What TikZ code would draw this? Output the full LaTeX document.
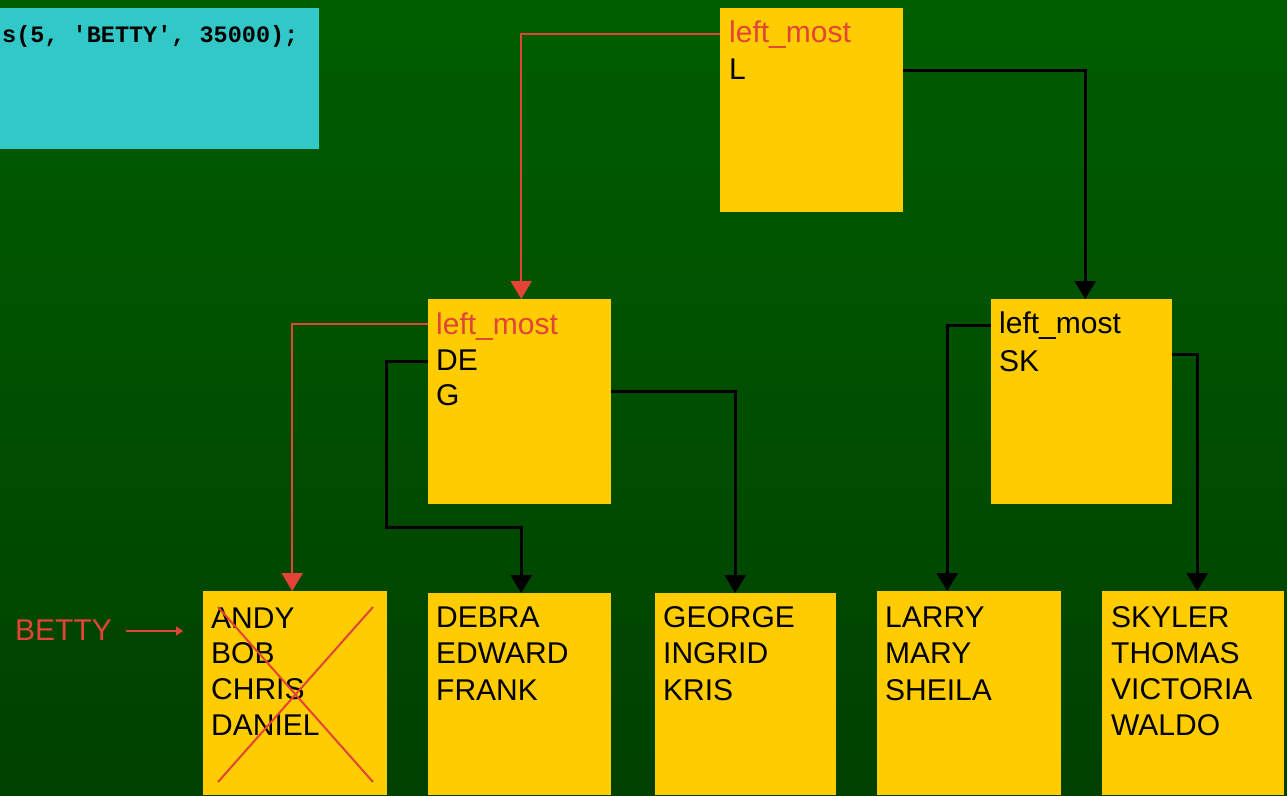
\documentclass[tikz,border=0pt]{standalone}
\usepackage{fontspec}
\setmainfont{Liberation Sans}
\newfontfamily\codefont{Liberation Mono}
\usetikzlibrary{arrows.meta,calc}
\definecolor{bgtop}{RGB}{0,94,0}
\definecolor{bgbot}{RGB}{0,64,0}
\definecolor{boxy}{RGB}{255,204,0}
\definecolor{redl}{RGB}{228,68,56}
\definecolor{cyanb}{RGB}{51,200,200}
\tikzset{
  card/.style={fill=boxy, draw=none, anchor=north west, inner sep=0pt},
  txt/.style={anchor=base west, inner sep=0pt, font=\fontsize{30}{36}\selectfont},
  redtxt/.style={txt, text=redl},
  blk/.style={draw=black, line width=3pt, -{Triangle[width=21pt,length=18pt]}},
  rdl/.style={draw=redl, line width=2pt, -{Triangle[width=21pt,length=18pt]}},
  crossl/.style={draw=redl, line width=2pt},
}
\begin{document}
\begin{tikzpicture}[x=1pt,y=-1pt]
\useasboundingbox (0,0) rectangle (1287,795);
\shade[top color=bgtop, bottom color=bgbot] (0,0) rectangle (1287,795);
% code box
\node[card, fill=cyanb, minimum width=319pt, minimum height=141pt] (code) at (0,8) {};
\node[anchor=base west, inner sep=0pt, font=\codefont\bfseries\fontsize{23.5}{28}\selectfont] (codetxt) at (2,42) {s(5, \textquotesingle BETTY\textquotesingle, 35000);};
% boxes
\node[card, minimum width=183pt, minimum height=204pt] (root) at (720,8) {};
\node[card, minimum width=183pt, minimum height=205pt] (mid1) at (428,299) {};
\node[card, minimum width=181pt, minimum height=205pt] (mid2) at (991,299) {};
\node[card, minimum width=184pt, minimum height=204pt] (leaf1) at (203,591) {};
\node[card, minimum width=183pt, minimum height=202pt] (leaf2) at (428,593) {};
\node[card, minimum width=181pt, minimum height=202pt] (leaf3) at (655,593) {};
\node[card, minimum width=184pt, minimum height=204pt] (leaf4) at (877,591) {};
\node[card, minimum width=182pt, minimum height=204pt] (leaf5) at (1102,591) {};
% texts
\node[redtxt] (r1) at (729,42) {left\_most};
\node[txt] (r2) at (729,79) {L};
\node[redtxt] (m11) at (436,334) {left\_most};
\node[txt] (m12) at (436,370) {DE};
\node[txt] (m13) at (436,405) {G};
\node[txt] (m21) at (999,333) {left\_most};
\node[txt] (m22) at (999,371) {SK};
\node[txt] (a1) at (211,628) {ANDY};
\node[txt] (a2) at (211,663) {BOB};
\node[txt] (a3) at (211,699) {CHRIS};
\node[txt] (a4) at (211,735) {DANIEL};
\node[txt] (b1) at (436,627) {DEBRA};
\node[txt] (b2) at (436,663) {EDWARD};
\node[txt] (b3) at (436,700) {FRANK};
\node[txt] (c1) at (663,627) {GEORGE};
\node[txt] (c2) at (663,663) {INGRID};
\node[txt] (c3) at (663,700) {KRIS};
\node[txt] (d1) at (885,627) {LARRY};
\node[txt] (d2) at (885,663) {MARY};
\node[txt] (d3) at (885,700) {SHEILA};
\node[txt] (e1) at (1111,627) {SKYLER};
\node[txt] (e2) at (1111,663) {THOMAS};
\node[txt] (e3) at (1111,699) {VICTORIA};
\node[txt] (e4) at (1111,735) {WALDO};
\node[redtxt] (betty) at (15,640) {BETTY};
% cross
\draw[crossl] ($(leaf1.north west)+(15,16)$) -- ($(leaf1.north west)+(170,191)$);
\draw[crossl] ($(leaf1.north west)+(15,191)$) -- ($(leaf1.north west)+(170,16)$);
% connectors
\draw[rdl] ($(root.north west)+(0,26)$) -| ([xshift=1.5pt]mid1.north);
\draw[blk] ($(root.north east)+(0,62)$) -| ([xshift=3.5pt]mid2.north);
\draw[rdl] ($(mid1.north west)+(0,25)$) -| ([xshift=-3pt]leaf1.north);
\coordinate (j1) at (386,527);
\draw[blk] ($(mid1.north west)+(0,62)$) -| (j1) -| ([xshift=1.5pt]leaf2.north);
\draw[blk] ($(mid1.north east)+(0,92)$) -| ([xshift=-10.5pt]leaf3.north);
\draw[blk] ($(mid2.north west)+(0,26)$) -| ([xshift=-22pt]leaf4.north);
\draw[blk] ($(mid2.north east)+(0,55)$) -| ([xshift=4pt]leaf5.north);
\draw[draw=redl, line width=2.5pt, -{Triangle[width=9pt,length=7pt]}] ($(betty.base east)+(14,-9)$) -- ($(leaf1.north west)+(-20,40)$);
\end{tikzpicture}
\end{document}
